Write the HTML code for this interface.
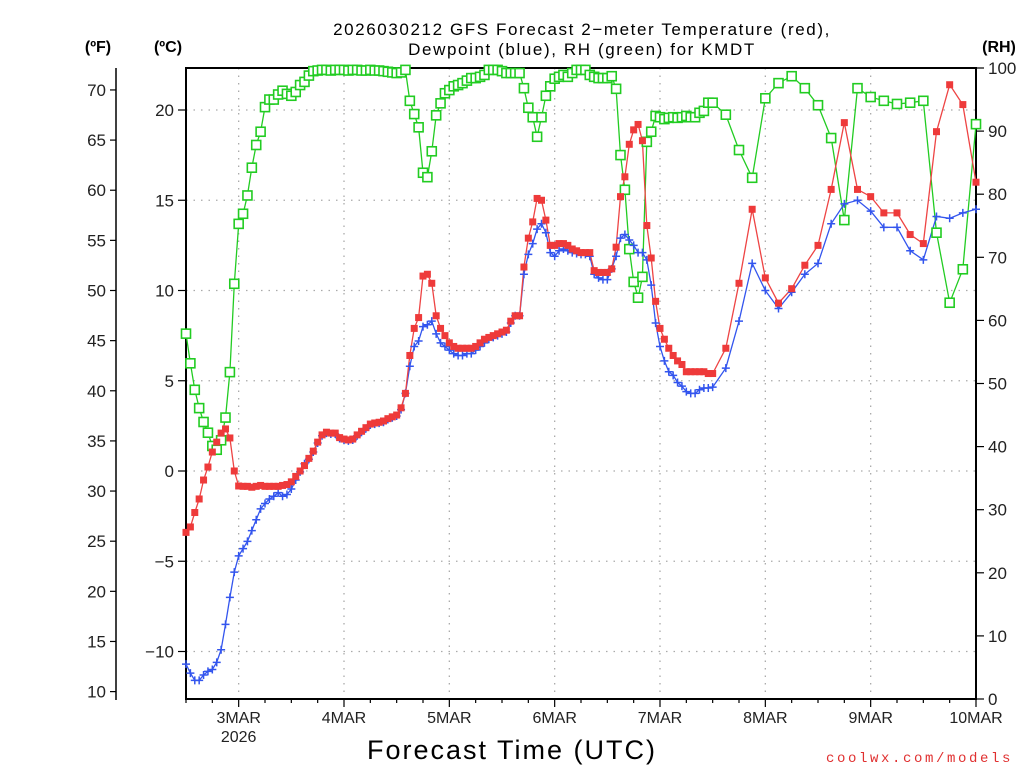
<!DOCTYPE html>
<html><head><meta charset="utf-8"><style>
body{margin:0;background:#fff;}
svg{display:block;font-family:"Liberation Sans",sans-serif;}
</style></head><body>
<svg id="chart" width="1024" height="768" viewBox="0 0 1024 768">
<g id="grid"></g>
<g id="axes"></g>
<g id="series"></g>
<text x="582" y="35" text-anchor="middle" font-size="17" letter-spacing="1.6" fill="#000">2026030212 GFS Forecast 2−meter Temperature (red),</text>
<text x="582" y="55" text-anchor="middle" font-size="17" letter-spacing="1.6" fill="#000">Dewpoint (blue), RH (green) for KMDT</text>
<text x="98" y="52" text-anchor="middle" font-size="16" font-weight="bold">(ºF)</text>
<text x="168" y="52" text-anchor="middle" font-size="16" font-weight="bold">(ºC)</text>
<text x="999" y="52" text-anchor="middle" font-size="16" font-weight="bold">(RH)</text>
<text x="512" y="759" text-anchor="middle" font-size="27" letter-spacing="2">Forecast Time (UTC)</text>
<text x="826" y="762" text-anchor="start" font-size="14" letter-spacing="2.6" fill="#e03030" font-family="Liberation Mono, monospace">coolwx.com/models</text>
</svg>
<script>
const hours=[0,1,2,3,4,5,6,7,8,9,10,11,12,13,14,15,16,17,18,19,20,21,22,23,24,25,26,27,28,29,30,31,32,33,34,35,36,37,38,39,40,41,42,43,44,45,46,47,48,49,50,51,52,53,54,55,56,57,58,59,60,61,62,63,64,65,66,67,68,69,70,71,72,73,74,75,76,77,78,79,80,81,82,83,84,85,86,87,88,89,90,91,92,93,94,95,96,97,98,99,100,101,102,103,104,105,106,107,108,109,110,111,112,113,114,115,116,117,118,119,120,123,126,129,132,135,138,141,144,147,150,153,156,159,162,165,168,171,174,177,180];
const tempC=[-3.4,-3.1,-2.3,-1.55,-0.5,0.22,1.05,1.6,2.1,2.33,1.83,0.0,-0.83,
-0.85,-0.85,-0.9,-0.85,-0.8,-0.85,-0.85,-0.85,-0.85,-0.8,-0.75,
-0.6,-0.3,0.0,0.3,0.7,1.1,1.6,2.0,2.15,2.1,2.1,1.85,1.77,1.72,1.77,2.0,2.2,2.4,2.6,
2.66,2.7,2.77,2.9,3.0,3.1,3.5,4.3,6.4,7.9,8.5,10.8,10.9,10.4,8.6,7.9,7.5,7.1,6.9,6.8,6.8,6.8,6.8,6.9,7.1,7.3,7.4,7.5,7.6,7.7,7.8,8.3,8.6,8.6,11.3,12.9,13.8,15.1,15.0,13.9,12.5,12.5,12.6,12.6,
12.5,12.3,12.2,12.1,12.1,12.1,11.1,11.0,11.0,11.0,11.2,12.4,15.2,16.3,18.1,18.9,19.2,18.3,13.6,11.8,9.4,7.9,7.3,6.8,6.4,6.1,5.9,5.5,5.5,5.5,5.5,5.5,5.4,5.4,
6.8,10.4,14.5,10.7,9.3,10.1,11.4,12.5,15.6,19.3,15.6,15.2,14.3,14.3,13.1,12.6,18.8,21.4,20.3,16.0];
const dewC=[-10.7,-11.2,-11.6,-11.6,-11.3,-11.1,-11.0,-10.6,-9.9,-8.5,-7.0,-5.6,-4.7,-4.3,-3.9,-3.3,-2.7,-2.1,-1.8,-1.55,-1.4,-1.2,-1.4,-1.3,-1.0,-0.5,-0.05,0.4,
0.65,1.05,1.55,1.95,2.1,2.05,2.05,1.8,1.72,1.67,1.72,1.95,2.15,2.35,2.55,
2.6,2.65,2.7,2.85,2.95,3.05,3.4,4.3,
5.8,6.9,7.2,8.0,8.1,8.3,7.6,7.1,6.9,6.7,6.5,6.4,6.4,6.5,6.5,6.7,6.9,7.1,7.3,7.4,7.5,7.6,7.7,8.2,8.6,8.6,10.9,12.0,12.6,13.4,13.7,13.2,12.1,11.9,12.2,12.3,
12.2,12.1,12.05,12.0,12.0,11.9,10.9,10.7,10.6,10.6,11.2,11.9,12.9,13.1,12.8,12.5,12.1,12.1,11.7,10.3,8.2,6.9,6.1,5.5,5.3,4.9,4.7,4.4,4.3,4.3,4.5,4.6,4.6,4.65,
5.7,8.3,11.5,10.0,9.0,9.9,10.9,11.5,13.7,14.8,15.0,14.4,13.5,13.5,12.2,11.7,14.1,14.0,14.3,14.5];
const rhPct=[57.9,53.2,49.0,46.1,43.9,42.2,40.1,39.5,41.0,44.6,51.8,65.8,75.3,76.9,79.8,84.2,87.8,89.9,93.8,95.0,95.0,95.8,96.4,95.9,95.6,96.2,97.3,97.8,98.8,99.5,
99.6,99.7,99.7,99.6,99.7,99.7,99.7,99.6,99.7,99.7,99.6,99.6,99.7,99.6,
99.6,99.5,99.4,99.3,99.2,99.3,99.7,94.8,92.7,90.6,83.4,82.7,86.8,92.5,94.4,96.0,96.5,97.1,97.3,97.6,98.0,98.4,98.4,98.6,98.9,99.7,99.7,99.7,99.5,99.2,99.2,99.2,99.2,96.8,93.7,92.2,89.1,92.2,95.6,97.1,98.3,98.6,98.9,
98.6,99.2,99.7,99.7,99.7,98.9,98.6,98.4,98.4,98.4,98.7,96.7,86.2,80.7,71.3,66.1,63.6,66.9,88.3,89.9,92.4,92.2,91.9,92.1,92.2,92.1,92.2,92.4,92.2,92.2,92.9,93.2,94.5,94.5,
92.6,87.0,82.6,95.2,97.6,98.7,96.8,94.1,88.9,75.9,96.8,95.4,94.8,94.3,94.5,94.8,73.9,62.8,68.1,91.1];
const cTicks=[20,15,10,5,0,-5,-10];
const fTicks=[70,65,60,55,50,45,40,35,30,25,20,15,10];
const rhTicks=[100,90,80,70,60,50,40,30,20,10,0];
const dayLabels=["3MAR","4MAR","5MAR","6MAR","7MAR","8MAR","9MAR","10MAR"];
const dayHours=[12,36,60,84,108,132,156,180];

const X0=186,X1=976,Y0=68,Y1=699;
const xS=h=>X0+(h/180)*(X1-X0);
const yC=c=>471-18.05*c;
const yF=f=>yC((f-32)*5/9);
const yRH=r=>Y1-(r/100)*(Y1-Y0);
const NS="http://www.w3.org/2000/svg";
function mk(tag,attrs,parent){const e=document.createElementNS(NS,tag);for(const k in attrs)e.setAttribute(k,attrs[k]);parent.appendChild(e);return e;}
const grid=document.getElementById('grid'),axes=document.getElementById('axes'),ser=document.getElementById('series');

cTicks.forEach(c=>{
  const l=mk('line',{x1:X0,x2:X1,y1:yC(c),y2:yC(c),stroke:'#aaa','stroke-width':1.3,'stroke-dasharray':'1.5,6'},grid);
  
  
  const t=mk('line',{x1:X0-8,x2:X0,y1:yC(c),y2:yC(c),stroke:'#000','stroke-width':1.2},axes);
  
  
  const tx=mk('text',{x:X0-12,y:yC(c)+6,'text-anchor':'end','font-size':17,fill:'#222'},axes);
  tx.textContent=(c<0?'−':'')+Math.abs(c);
  
  
});
dayHours.slice(0,7).forEach(h=>{
  const l=mk('line',{x1:xS(h),x2:xS(h),y1:Y0,y2:Y1,stroke:'#aaa','stroke-width':1.3,'stroke-dasharray':'1.5,6'},grid);
  
  
});
const fl=mk('line',{x1:116,x2:116,y1:Y0,y2:Y1+1,stroke:'#000','stroke-width':1.5},axes);


fTicks.forEach(f=>{
  const t=mk('line',{x1:110,x2:116,y1:yF(f),y2:yF(f),stroke:'#000','stroke-width':1.2},axes);
  
  
  const tx=mk('text',{x:106,y:yF(f)+6,'text-anchor':'end','font-size':17,fill:'#222'},axes);
  tx.textContent=f;
  
  
});
rhTicks.forEach(r=>{
  const t=mk('line',{x1:X1,x2:X1+8,y1:yRH(r),y2:yRH(r),stroke:'#000','stroke-width':1.2},axes);
  
  
  const tx=mk('text',{x:X1+12,y:yRH(r)+6,'text-anchor':'start','font-size':17,fill:'#222'},axes);
  tx.textContent=r;
  
  
});
for(let h=0;h<=180;h+=6){
  const big=dayHours.includes(h);
  const t=mk('line',{x1:xS(h),x2:xS(h),y1:Y1,y2:Y1+(big?8:4),stroke:'#000','stroke-width':1.2},axes);
  
  
}
dayLabels.forEach((d,i)=>{
  const tx=mk('text',{x:xS(dayHours[i]),y:723,'text-anchor':'middle','font-size':16,fill:'#222'},axes);
  tx.textContent=d;
  
  
});
const yr=mk('text',{x:xS(dayHours[0]),y:742,'text-anchor':'middle','font-size':16,fill:'#222'},axes);
yr.textContent='2026';


const fr=mk('rect',{x:X0,y:Y0,width:X1-X0,height:Y1-Y0,fill:'none',stroke:'#000','stroke-width':2},axes);



function line(vals,yf,color,name){
  const pts=hours.map((h,i)=>xS(h).toFixed(1)+','+yf(vals[i]).toFixed(1)).join(' ');
  const p=mk('polyline',{points:pts,fill:'none',stroke:color,'stroke-width':1.3},ser);
  
  
}
line(rhPct,yRH,'#22cc22','rh-line');
line(dewC,yC,'#3355ee','dewpoint-line');
line(tempC,yC,'#ee4444','temperature-line');
const gG=mk('g',{},ser);
hours.forEach((h,i)=>{
  const m=mk('rect',{x:xS(h)-4.5,y:yRH(rhPct[i])-4.5,width:9,height:9,fill:'#fff',stroke:'#22cc22','stroke-width':1.6},gG);
  
  
});
const gB=mk('g',{},ser);
hours.forEach((h,i)=>{
  const x=xS(h),y=yC(dewC[i]);
  const m=mk('path',{d:`M${x-4},${y}H${x+4}M${x},${y-4}V${y+4}`,stroke:'#3355ee','stroke-width':1.5},gB);
  
  
});
const gR=mk('g',{},ser);
hours.forEach((h,i)=>{
  const m=mk('rect',{x:xS(h)-3.5,y:yC(tempC[i])-3.5,width:7,height:7,fill:'#ee3a3a'},gR);
  
  
});
</script>
</body></html>
